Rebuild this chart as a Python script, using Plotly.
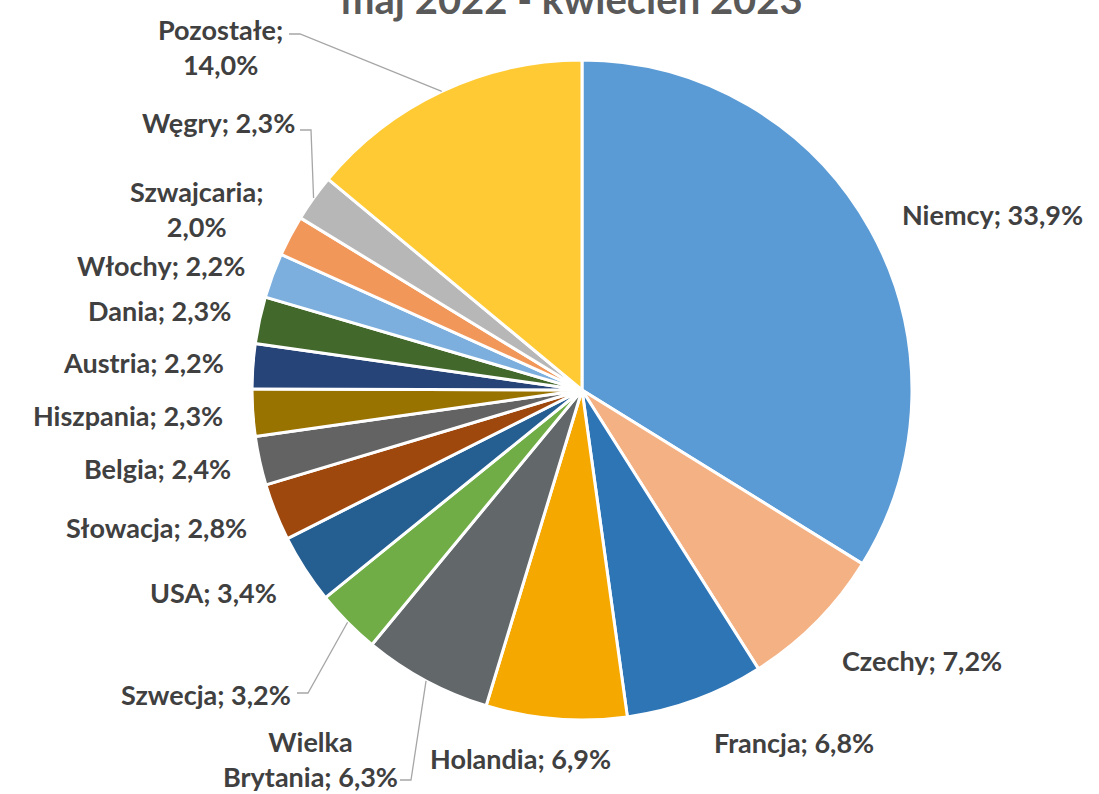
import math
import plotly.graph_objects as go

# ---- data ----
countries = ["Niemcy", "Czechy", "Francja", "Holandia", "Wielka Brytania", "Szwecja",
             "USA", "Słowacja", "Belgia", "Hiszpania", "Austria", "Dania", "Włochy",
             "Szwajcaria", "Węgry", "Pozostałe"]
shares = [33.9, 7.2, 6.8, 6.9, 6.3, 3.2, 3.4, 2.8, 2.4, 2.3, 2.2, 2.3, 2.2, 2.0, 2.3, 14.0]
label_texts = ["Niemcy; 33,9%", "Czechy; 7,2%", "Francja; 6,8%", "Holandia; 6,9%",
               "Wielka<br>Brytania; 6,3%", "Szwecja; 3,2%", "USA; 3,4%", "Słowacja; 2,8%",
               "Belgia; 2,4%", "Hiszpania; 2,3%", "Austria; 2,2%", "Dania; 2,3%",
               "Włochy; 2,2%", "Szwajcaria;<br>2,0%", "Węgry; 2,3%", "Pozostałe;<br>14,0%"]
title_text = "maj 2022 - kwiecień 2023"

# ---- styles / layout ----
colors = ["#5B9BD5", "#F4B183", "#2E75B6", "#F5A800", "#62676A", "#70AD47",
          "#255E91", "#9E480E", "#636363", "#997300", "#264478", "#43682B",
          "#7CAFDD", "#F1975A", "#B7B7B7", "#FFCA33"]

W, H = 1099, 794
CX, CY, R = 582, 390, 330

# label anchor positions in pixels (x, y, xanchor)
label_pos = [
    (900, 215, "left"), (840, 660, "left"), (712, 742, "left"), (428, 758, "left"),
    (400, 759, "right"), (293, 694, "right"), (279, 592, "right"), (249, 527, "right"),
    (233, 468, "right"), (225, 415, "right"), (226, 362, "right"), (233, 311, "right"),
    (247, 265, "right"), (266, 209, "right"), (297, 123, "right"), (285, 47, "right"),
]
# labels with leader lines: index -> label-side end point
leaders = {4: (400, 780), 5: (297, 693), 14: (300, 130), 15: (289, 34)}


def px(x):
    return x / W


def py(y):
    return 1 - y / H


fig = go.Figure()
fig.add_trace(go.Pie(
    labels=countries, values=shares, sort=False, direction="clockwise", rotation=0,
    marker=dict(colors=colors, line=dict(color="white", width=3)),
    textinfo="none", hoverinfo="label+percent", showlegend=False,
    domain=dict(x=[px(CX - R), px(CX + R)], y=[py(CY + R), py(CY - R)]),
))

font = dict(family="Lato, 'Open Sans', sans-serif", size=27, color="#404040")
annotations = []
for i, (txt, (lx, ly, xa)) in enumerate(zip(label_texts, label_pos)):
    annotations.append(dict(
        x=px(lx), y=py(ly), xref="paper", yref="paper", text="<b>%s</b>" % txt,
        showarrow=False, xanchor=xa, yanchor="middle", align="center", font=font))

annotations.append(dict(
    x=px(572), y=py(-1), xref="paper", yref="paper", text="<b>%s</b>" % title_text,
    showarrow=False, xanchor="center", yanchor="middle",
    font=dict(family="Lato, 'Open Sans', sans-serif", size=40, color="#595959")))

# leader lines from slice mid-edge to label
total = sum(shares)
cum = 0
mids = []
for v in shares:
    mids.append((cum + v / 2) / total * 2 * math.pi)
    cum += v

shapes = []
for i, (ex, ey) in leaders.items():
    a = mids[i]
    sx = CX + R * math.sin(a)
    sy = CY - R * math.cos(a)
    elbow_x = ex + 11
    path = "M %f %f L %f %f L %f %f" % (px(ex), py(ey), px(elbow_x), py(ey), px(sx), py(sy))
    shapes.append(dict(type="path", path=path, xref="paper", yref="paper",
                       line=dict(color="#A6A6A6", width=1.3)))

fig.update_layout(
    width=W, height=H, margin=dict(l=0, r=0, t=0, b=0),
    paper_bgcolor="white", plot_bgcolor="white",
    annotations=annotations, shapes=shapes,
)

fig.write_html("out.html", config={"displayModeBar": False},
               post_script="document.body.style.margin='0px';"
               "document.body.style.overflow='hidden';")
